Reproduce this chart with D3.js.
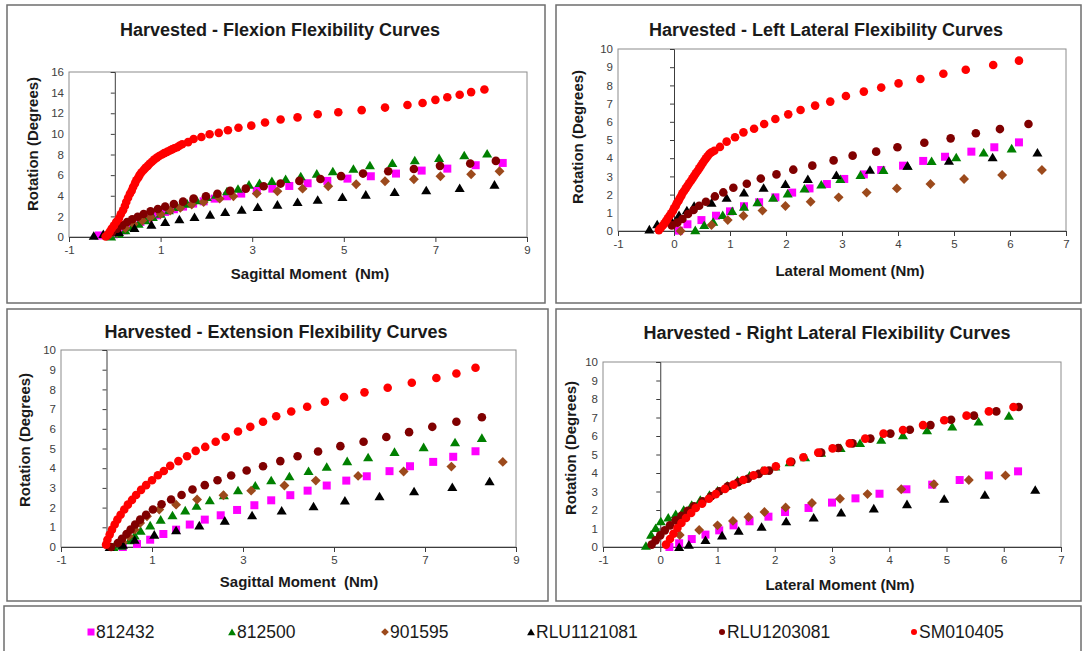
<!DOCTYPE html>
<html lang="en">
<head>
<meta charset="UTF-8">
<title>Harvested Flexibility Curves</title>
<script src="https://cdn.jsdelivr.net/npm/d3@7"></script>
<style>
  body { margin: 0; background: #fff; }
  text { font-family: Arial, "Liberation Sans", sans-serif; }
</style>
</head>
<body>
<svg id="chart" width="1083" height="651"></svg>
<script>
// series, in drawing order
var seriesNames = ["812432", "812500", "901595", "RLU1121081", "RLU1203081", "SM010405"];

// tick labels
var xTicksSagittal = [-1, 1, 3, 5, 7, 9];
var xTicksLateral = [-1, 0, 1, 2, 3, 4, 5, 6, 7];
var yTicksFlexion = [0, 2, 4, 6, 8, 10, 12, 14, 16];
var yTicksTen = [0, 1, 2, 3, 4, 5, 6, 7, 8, 9, 10];

// ---- flexion: [moment Nm, rotation deg]
var flex812432 = [[-0.35,0.15],[-0.02,0.26],[0.2,0.65],[0.38,1.07],[0.56,1.46],[0.74,1.78],[0.92,2.1],[1.1,2.43],[1.29,2.69],[1.49,2.95],[1.71,3.24],[1.94,3.46],[2.18,3.72],[2.45,3.95],[2.76,4.21],[3.1,4.47],[3.44,4.69],[3.81,4.95],[4.21,5.21],[4.64,5.44],[5.08,5.66],[5.59,5.89],[6.14,6.15],[6.7,6.44],[7.26,6.63],[7.88,6.96],[8.47,7.18]];
var flex812500 = [[-0.08,0.06],[0.09,0.32],[0.23,0.65],[0.38,0.97],[0.52,1.29],[0.67,1.62],[0.83,1.94],[1.0,2.27],[1.18,2.59],[1.37,2.91],[1.58,3.24],[1.79,3.56],[2.01,3.88],[2.21,4.1],[2.45,4.43],[2.69,4.69],[2.93,5.08],[3.16,5.24],[3.43,5.44],[3.73,5.63],[4.06,5.89],[4.41,6.15],[4.76,6.38],[5.21,6.63],[5.57,6.96],[6.06,7.18],[6.55,7.44],[7.08,7.67],[7.63,7.93],[8.13,8.09]];
var flex901595 = [[-0.13,0.16],[0.05,0.49],[0.23,0.87],[0.41,1.26],[0.6,1.59],[0.78,1.91],[1.0,2.23],[1.21,2.56],[1.43,2.82],[1.68,3.14],[1.94,3.4],[2.29,3.72],[2.59,3.95],[3.1,4.21],[3.55,4.43],[4.1,4.69],[4.66,4.92],[5.27,5.11],[5.9,5.4],[6.53,5.6],[7.11,5.89],[7.78,6.08],[8.4,6.38]];
var flexRLU1121081 = [[-0.46,0.12],[-0.25,0.3],[0.09,0.49],[0.43,0.87],[0.8,1.2],[1.1,1.46],[1.41,1.72],[1.74,1.94],[2.08,2.17],[2.41,2.43],[2.77,2.65],[3.12,2.91],[3.55,3.14],[3.99,3.4],[4.43,3.62],[4.97,3.88],[5.48,4.11],[6.11,4.37],[6.8,4.53],[7.53,4.76],[8.29,5.08]];
var flexRLU1203081 = [[-0.17,0.16],[-0.06,0.49],[0.05,0.81],[0.16,1.13],[0.27,1.46],[0.38,1.72],[0.5,1.97],[0.63,2.23],[0.78,2.49],[0.94,2.72],[1.1,2.95],[1.29,3.2],[1.49,3.43],[1.72,3.72],[1.99,3.95],[2.24,4.2],[2.52,4.47],[2.86,4.69],[3.25,4.92],[3.62,5.18],[4.03,5.44],[4.49,5.63],[4.94,5.9],[5.42,6.15],[5.97,6.38],[6.53,6.6],[7.1,6.9],[7.76,7.12],[8.32,7.38]];
var flexSM010405 = [[-0.2,0.05],[-0.15,0.25],[-0.11,0.5],[-0.07,0.8],[-0.02,1.1],[0.03,1.45],[0.09,1.8],[0.13,2.2],[0.18,2.6],[0.22,3.0],[0.25,3.4],[0.29,3.8],[0.33,4.2],[0.37,4.5],[0.4,4.85],[0.44,5.2],[0.47,5.5],[0.51,5.75],[0.54,6.0],[0.58,6.25],[0.63,6.5],[0.67,6.7],[0.72,6.9],[0.76,7.1],[0.81,7.3],[0.86,7.5],[0.92,7.7],[0.97,7.85],[1.03,8.0],[1.08,8.13],[1.14,8.25],[1.2,8.38],[1.25,8.5],[1.3,8.6],[1.36,8.7],[1.41,8.85],[1.47,9.0],[1.6,9.2],[1.72,9.5],[1.89,9.7],[2.07,9.97],[2.27,10.1],[2.47,10.35],[2.7,10.6],[2.98,10.8],[3.28,11.1],[3.62,11.4],[3.99,11.6],[4.43,11.9],[4.88,12.1],[5.39,12.3],[5.9,12.55],[6.39,12.8],[6.72,13.0],[7.0,13.3],[7.26,13.55],[7.53,13.8],[7.78,14.05],[8.07,14.3]];

// ---- left lateral
var ll812432 = [[0.09,0.02],[0.24,0.37],[0.49,0.6],[0.75,0.84],[1.0,1.08],[1.25,1.36],[1.52,1.58],[1.81,1.85],[2.11,2.11],[2.42,2.34],[2.73,2.58],[3.04,2.86],[3.39,3.11],[3.7,3.35],[4.09,3.59],[4.45,3.85],[4.84,4.08],[5.31,4.36],[5.72,4.6],[6.16,4.87]];
var ll812500 = [[0.38,0.05],[0.54,0.33],[0.7,0.51],[0.87,0.88],[1.04,1.1],[1.25,1.34],[1.49,1.58],[1.77,1.83],[2.03,2.07],[2.33,2.34],[2.63,2.56],[2.97,2.86],[3.33,3.08],[3.74,3.35],[4.17,3.59],[4.6,3.85],[5.04,4.05],[5.53,4.32],[6.03,4.54]];
var ll901595 = [[0.12,0.0],[0.67,0.33],[0.96,0.6],[1.24,0.84],[1.58,1.12],[1.99,1.37],[2.44,1.61],[2.94,1.85],[3.44,2.11],[3.98,2.34],[4.58,2.58],[5.18,2.86],[5.86,3.08],[6.57,3.35]];
var llRLU1121081 = [[-0.44,0.09],[-0.3,0.37],[-0.05,0.6],[0.09,0.88],[0.23,1.14],[0.36,1.39],[0.67,1.56],[0.94,1.83],[1.25,2.12],[1.6,2.38],[1.99,2.58],[2.39,2.86],[2.9,3.08],[3.5,3.37],[4.17,3.59],[4.91,3.86],[5.69,4.05],[6.49,4.32]];
var llRLU1203081 = [[-0.04,0.31],[0.06,0.46],[0.15,0.66],[0.25,0.93],[0.35,1.15],[0.45,1.39],[0.57,1.61],[0.73,1.9],[0.88,2.12],[1.06,2.38],[1.3,2.6],[1.55,2.88],[1.83,3.11],[2.13,3.37],[2.47,3.59],[2.85,3.88],[3.19,4.14],[3.61,4.36],[3.99,4.6],[4.47,4.85],[4.94,5.09],[5.39,5.37],[5.82,5.6],[6.33,5.88]];
var llSM010405 = [[-0.27,0.05],[-0.24,0.15],[-0.2,0.3],[-0.17,0.42],[-0.14,0.56],[-0.11,0.7],[-0.08,0.84],[-0.05,0.97],[-0.02,1.1],[0.0,1.25],[0.03,1.38],[0.05,1.52],[0.08,1.65],[0.1,1.79],[0.13,1.93],[0.15,2.07],[0.18,2.2],[0.21,2.34],[0.24,2.48],[0.27,2.62],[0.3,2.75],[0.33,2.89],[0.36,3.03],[0.39,3.17],[0.42,3.3],[0.45,3.44],[0.48,3.58],[0.51,3.72],[0.54,3.86],[0.57,3.99],[0.6,4.11],[0.63,4.23],[0.67,4.33],[0.72,4.41],[0.82,4.62],[0.94,4.91],[1.09,5.15],[1.24,5.42],[1.43,5.62],[1.61,5.88],[1.81,6.15],[2.04,6.41],[2.26,6.65],[2.52,6.89],[2.79,7.11],[3.07,7.42],[3.39,7.66],[3.7,7.88],[4.01,8.11],[4.4,8.35],[4.81,8.64],[5.21,8.86],[5.7,9.12],[6.16,9.36]];

// ---- extension
var ext812432 = [[0.36,0.0],[0.67,0.15],[0.96,0.37],[1.25,0.66],[1.53,0.88],[1.83,1.14],[2.16,1.39],[2.51,1.61],[2.87,1.88],[3.25,2.12],[3.62,2.37],[4.04,2.63],[4.42,2.86],[4.84,3.12],[5.27,3.37],[5.72,3.59],[6.22,3.85],[6.67,4.1],[7.18,4.32],[7.62,4.58],[8.11,4.86]];
var ext812500 = [[0.15,0.0],[0.33,0.07],[0.51,0.34],[0.62,0.58],[0.75,0.83],[0.96,1.1],[1.19,1.39],[1.45,1.61],[1.73,1.86],[1.98,2.1],[2.27,2.37],[2.58,2.63],[2.89,2.88],[3.27,3.12],[3.62,3.39],[4.02,3.59],[4.44,3.86],[4.84,4.07],[5.29,4.36],[5.75,4.56],[6.33,4.83],[6.97,5.07],[7.66,5.32],[8.25,5.54]];
var ext901595 = [[0.36,0.24],[0.49,0.54],[0.62,0.88],[0.74,1.22],[0.89,1.56],[1.16,1.9],[1.53,2.15],[1.99,2.41],[2.57,2.63],[3.18,2.86],[3.91,3.12],[4.6,3.37],[5.53,3.61],[6.53,3.83],[7.58,4.08],[8.71,4.32]];
var extRLU1121081 = [[0.07,0.0],[0.36,0.12],[0.62,0.37],[1.05,0.63],[1.53,0.85],[2.04,1.1],[2.6,1.34],[3.2,1.61],[3.85,1.85],[4.55,2.07],[5.24,2.36],[6.0,2.58],[6.76,2.83],[7.6,3.05],[8.42,3.34]];
var extRLU1203081 = [[0.1,0.0],[0.25,0.2],[0.34,0.42],[0.44,0.66],[0.53,0.88],[0.63,1.14],[0.74,1.39],[0.87,1.63],[1.02,1.9],[1.21,2.17],[1.42,2.41],[1.65,2.64],[1.89,2.92],[2.16,3.14],[2.44,3.39],[2.74,3.63],[3.08,3.88],[3.44,4.1],[3.82,4.36],[4.2,4.61],[4.65,4.85],[5.14,5.12],[5.65,5.34],[6.15,5.58],[6.65,5.83],[7.16,6.1],[7.69,6.36],[8.25,6.59]];
var extSM010405 = [[-0.01,0.12],[0.02,0.37],[0.07,0.63],[0.12,0.88],[0.18,1.14],[0.24,1.39],[0.31,1.64],[0.39,1.9],[0.47,2.15],[0.56,2.39],[0.65,2.64],[0.76,2.9],[0.87,3.14],[1.0,3.39],[1.13,3.64],[1.26,3.86],[1.4,4.12],[1.58,4.36],[1.77,4.61],[1.96,4.88],[2.17,5.08],[2.4,5.34],[2.62,5.58],[2.89,5.86],[3.16,6.1],[3.44,6.36],[3.73,6.64],[4.06,6.88],[4.41,7.12],[4.8,7.37],[5.22,7.61],[5.67,7.85],[6.18,8.08],[6.71,8.34],[7.25,8.58],[7.69,8.81],[8.11,9.1]];

// ---- right lateral
var rl812432 = [[0.16,0.0],[0.33,0.2],[0.55,0.43],[0.79,0.67],[1.03,0.9],[1.28,1.17],[1.56,1.39],[1.89,1.64],[2.18,1.89],[2.59,2.11],[3.0,2.4],[3.41,2.63],[3.83,2.88],[4.3,3.12],[4.75,3.37],[5.23,3.62],[5.74,3.87],[6.25,4.09]];
var rl812500 = [[-0.25,0.07],[-0.16,0.67],[-0.08,1.03],[0.01,1.39],[0.14,1.6],[0.27,1.78],[0.41,2.02],[0.55,2.29],[0.7,2.56],[0.86,2.83],[1.0,3.05],[1.17,3.32],[1.35,3.59],[1.56,3.87],[1.78,4.13],[2.01,4.36],[2.26,4.59],[2.53,4.85],[2.81,5.1],[3.15,5.35],[3.49,5.62],[3.86,5.8],[4.24,6.05],[4.66,6.31],[5.1,6.52],[5.56,6.79],[6.09,7.1]];
var rl901595 = [[0.34,0.65],[0.68,0.92],[1.0,1.17],[1.27,1.41],[1.54,1.62],[1.82,1.89],[2.19,2.14],[2.65,2.38],[3.14,2.61],[3.62,2.86],[4.21,3.12],[4.78,3.39],[5.39,3.62],[6.03,3.87]];
var rlRLU1121081 = [[0.33,0.0],[0.5,0.13],[0.79,0.38],[1.08,0.63],[1.37,0.88],[1.77,1.1],[2.2,1.39],[2.68,1.6],[3.16,1.87],[3.73,2.09],[4.31,2.32],[4.96,2.61],[5.67,2.83],[6.55,3.1]];
var rlRLU1203081 = [[-0.15,0.13],[-0.08,0.36],[0.0,0.63],[0.08,0.9],[0.17,1.17],[0.27,1.44],[0.37,1.69],[0.48,1.96],[0.59,2.2],[0.74,2.47],[0.89,2.74],[1.03,3.01],[1.18,3.28],[1.36,3.5],[1.53,3.69],[1.72,3.95],[1.9,4.13],[2.29,4.61],[2.81,5.1],[3.11,5.35],[3.36,5.6],[3.67,5.86],[4.02,6.13],[4.36,6.34],[4.72,6.59],[5.08,6.88],[5.48,7.1],[5.87,7.33],[6.26,7.57]];
var rlSM010405 = [[0.1,0.13],[0.17,0.43],[0.23,0.72],[0.3,1.03],[0.37,1.3],[0.45,1.57],[0.54,1.84],[0.62,2.11],[0.73,2.34],[0.85,2.61],[0.97,2.86],[1.13,3.14],[1.28,3.37],[1.45,3.62],[1.63,3.87],[1.82,4.13],[2.02,4.36],[2.27,4.61],[2.5,4.85],[2.76,5.1],[3.01,5.33],[3.31,5.6],[3.58,5.86],[3.9,6.13],[4.24,6.32],[4.59,6.59],[4.96,6.85],[5.35,7.1],[5.74,7.33],[6.17,7.57]];

// marker look per series
var seriesStyle = {
  "812432":     { shape: "square",   color: "#ff00ff" },
  "812500":     { shape: "triangle", color: "#008000" },
  "901595":     { shape: "diamond",  color: "#9c4a1c" },
  "RLU1121081": { shape: "triangle", color: "#000000" },
  "RLU1203081": { shape: "circle",   color: "#800000" },
  "SM010405":   { shape: "circle",   color: "#ff0000" }
};

function markerPath(shape, s) {
  var p = d3.path();
  if (shape === "square") {
    p.rect(-s / 2, -s / 2, s, s);
  } else if (shape === "triangle") {
    p.moveTo(0, -s * 0.5); p.lineTo(s * 0.56, s * 0.45); p.lineTo(-s * 0.56, s * 0.45); p.closePath();
  } else if (shape === "diamond") {
    p.moveTo(0, -s * 0.55); p.lineTo(s * 0.55, 0); p.lineTo(0, s * 0.55); p.lineTo(-s * 0.55, 0); p.closePath();
  } else {
    p.arc(0, 0, s / 2, 0, 2 * Math.PI);
  }
  return p.toString();
}

var svg = d3.select("#chart");
svg.append("rect").attr("width", 1083).attr("height", 651).attr("fill", "#fff");

var panels = [
  { frame: [7, 5, 538, 298], plot: { l: 69, r: 527, t: 72, b: 237 }, xDom: [-1, 9], yDom: [0, 16],
    xt: xTicksSagittal, yt: yTicksFlexion, title: "Harvested - Flexion Flexibility Curves", titlePos: [280, 36],
    xLab: "Sagittal Moment  (Nm)", xLabPos: [310, 279], yLabPos: [33, 144],
    data: [flex812432, flex812500, flex901595, flexRLU1121081, flexRLU1203081, flexSM010405] },
  { frame: [556, 5, 525, 298], plot: { l: 618, r: 1066, t: 49, b: 231 }, xDom: [-1, 7], yDom: [0, 10],
    xt: xTicksLateral, yt: yTicksTen, title: "Harvested - Left Lateral Flexibility Curves", titlePos: [826, 36],
    xLab: "Lateral Moment (Nm)", xLabPos: [850, 276], yLabPos: [578, 137],
    data: [ll812432, ll812500, ll901595, llRLU1121081, llRLU1203081, llSM010405] },
  { frame: [7, 309, 541, 292], plot: { l: 61, r: 516, t: 350, b: 547 }, xDom: [-1, 9], yDom: [0, 10],
    xt: xTicksSagittal, yt: yTicksTen, title: "Harvested - Extension Flexibility Curves", titlePos: [276, 338],
    xLab: "Sagittal Moment  (Nm)", xLabPos: [299, 587], yLabPos: [25, 440],
    data: [ext812432, ext812500, ext901595, extRLU1121081, extRLU1203081, extSM010405] },
  { frame: [556, 309, 525, 292], plot: { l: 603, r: 1061, t: 362, b: 547 }, xDom: [-1, 7], yDom: [0, 10],
    xt: xTicksLateral, yt: yTicksTen, title: "Harvested - Right Lateral Flexibility Curves", titlePos: [827, 339],
    xLab: "Lateral Moment (Nm)", xLabPos: [840, 590], yLabPos: [571, 448],
    data: [rl812432, rl812500, rl901595, rlRLU1121081, rlRLU1203081, rlSM010405] }
];

panels.forEach(function (pn) {
  var g = svg.append("g");
  g.append("rect")
    .attr("x", pn.frame[0]).attr("y", pn.frame[1])
    .attr("width", pn.frame[2]).attr("height", pn.frame[3])
    .attr("fill", "#fff").attr("stroke", "#6e6e6e").attr("stroke-width", 1.5);

  var x = d3.scaleLinear().domain(pn.xDom).range([pn.plot.l, pn.plot.r]);
  var y = d3.scaleLinear().domain(pn.yDom).range([pn.plot.b, pn.plot.t]);

  // plot area border
  g.append("rect")
    .attr("x", pn.plot.l).attr("y", pn.plot.t)
    .attr("width", pn.plot.r - pn.plot.l).attr("height", pn.plot.b - pn.plot.t)
    .attr("fill", "none").attr("stroke", "#8c8c8c").attr("stroke-width", 1);

  // y tick labels sit at the left of the plot
  var yLabels = g.append("g").attr("transform", "translate(" + pn.plot.l + ",0)")
    .call(d3.axisLeft(y).tickValues(pn.yt).tickSize(0).tickPadding(5).tickFormat(function (d) { return String(d); }));
  yLabels.select(".domain").remove();

  // vertical axis crossing at x = 0
  g.append("g").attr("transform", "translate(" + x(0) + ",0)")
    .call(d3.axisLeft(y).tickValues(pn.yt).tickSize(4).tickFormat(""));

  // horizontal axis
  g.append("g").attr("transform", "translate(0," + pn.plot.b + ")")
    .call(d3.axisBottom(x).tickValues(pn.xt).tickSize(5).tickSizeOuter(0).tickPadding(4)
      .tickFormat(function (d) { return String(d); }));

  g.selectAll(".domain").attr("stroke", "#3c3c3c");
  g.selectAll(".tick line").attr("stroke", "#3c3c3c");
  g.selectAll(".tick text").attr("fill", "#404040").style("font-size", "11.5px")
    .style("font-family", "Arial, 'Liberation Sans', sans-serif");

  // series
  seriesNames.forEach(function (name, i) {
    var st = seriesStyle[name];
    g.append("g").selectAll("path").data(pn.data[i]).join("path")
      .attr("d", markerPath(st.shape, st.shape === "circle" ? 8.6 : (st.shape === "square" ? 8 : 9)))
      .attr("transform", function (d) { return "translate(" + x(d[0]) + "," + y(d[1]) + ")"; })
      .attr("fill", st.color);
  });

  g.append("text").attr("x", pn.titlePos[0]).attr("y", pn.titlePos[1])
    .attr("text-anchor", "middle").style("font-size", "18px").style("font-weight", "bold")
    .attr("fill", "#1a1a1a").text(pn.title);
  g.append("text").attr("x", pn.xLabPos[0]).attr("y", pn.xLabPos[1])
    .attr("text-anchor", "middle").style("font-size", "15px").style("font-weight", "bold")
    .attr("fill", "#1a1a1a").style("white-space", "pre").text(pn.xLab);
  g.append("text")
    .attr("transform", "translate(" + pn.yLabPos[0] + "," + pn.yLabPos[1] + ") rotate(-90)")
    .attr("text-anchor", "middle").attr("dy", "0.35em")
    .style("font-size", "15px").style("font-weight", "bold")
    .attr("fill", "#1a1a1a").text("Rotation (Degrees)");
});

// legend
var legend = svg.append("g");
legend.append("rect").attr("x", 4).attr("y", 606).attr("width", 1077).attr("height", 50)
  .attr("fill", "#fff").attr("stroke", "#6e6e6e").attr("stroke-width", 1.5);
var legendX = [91, 232, 385, 531, 722, 914];
seriesNames.forEach(function (name, i) {
  var st = seriesStyle[name];
  legend.append("path")
    .attr("d", markerPath(st.shape, st.shape === "circle" ? 6 : 7))
    .attr("transform", "translate(" + legendX[i] + ",632)")
    .attr("fill", st.color);
  legend.append("text").attr("x", legendX[i] + 5).attr("y", 632).attr("dy", "0.35em")
    .style("font-size", "17.5px").attr("fill", "#1a1a1a").text(name);
});
</script>
</body>
</html>
